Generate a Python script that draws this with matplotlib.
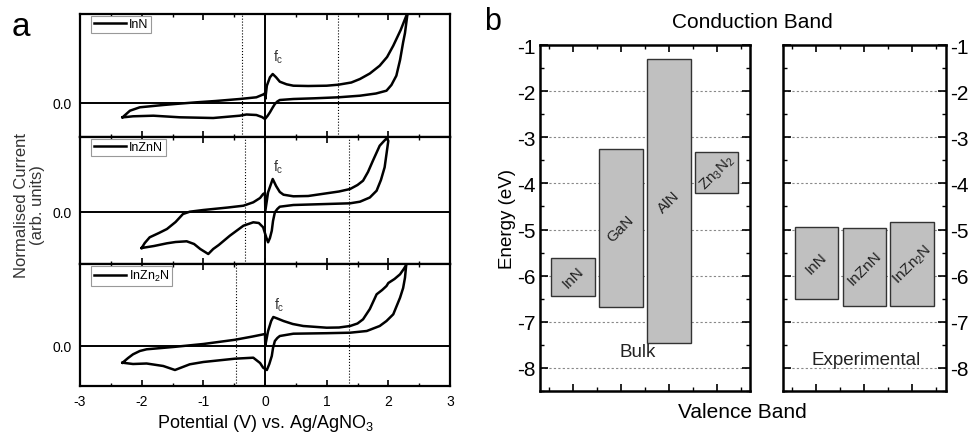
import matplotlib
matplotlib.use("Agg")
import matplotlib.pyplot as plt
from matplotlib.ticker import MultipleLocator
import numpy as np

plt.rcParams['font.family'] = ['Liberation Sans', 'DejaVu Sans']
plt.rcParams['mathtext.fontset'] = 'custom'
plt.rcParams['mathtext.rm'] = 'Liberation Sans'
plt.rcParams['mathtext.it'] = 'Liberation Sans'
plt.rcParams['axes.unicode_minus'] = False

# ---- panel a : cyclic voltammograms ----
cv_names = ["InN", "InZnN", "InZn$_2$N"]

v_inn = [-2.31, -2.19, -2.03, -1.65, -1.4, -1.11, -0.8, -0.41, -0.14, -0.03, 0.0, 0.005,
         0.03, 0.08, 0.125, 0.18, 0.24, 0.35, 0.46, 0.7, 1.0, 1.19, 1.4, 1.54, 1.7, 1.86,
         1.98, 2.08, 2.2, 2.29, 2.31,
         2.27, 2.24, 2.19, 2.13, 2.05, 1.97, 1.8, 1.54, 1.19, 0.8, 0.46, 0.24, 0.2, 0.16,
         0.12, 0.08, 0.04, 0.0, -0.05, -0.14, -0.3, -0.41, -0.84, -1.38, -1.81, -2.14,
         -2.25, -2.31]
i_inn = [-1.43, -0.77, -0.43, -0.2, -0.07, 0.07, 0.2, 0.4, 0.57, 0.85, 0.97, 0.4,
         1.73, 2.57, 2.9, 2.57, 2.13, 1.87, 1.73, 1.7, 1.73, 1.83, 2.05, 2.4, 2.95, 3.73,
         4.6, 5.73, 7.3, 8.7, 8.9,
         7.0, 6.07, 4.3, 2.73, 1.8, 1.23, 0.95, 0.73, 0.57, 0.47, 0.4, 0.3, 0.15, -0.1,
         -0.5, -0.93, -1.3, -1.6, -1.4, -1.2, -1.15, -1.27, -1.5, -1.43, -1.27, -1.33,
         -1.4, -1.43]

v_inznn = [-2.0, -1.95, -1.87, -1.72, -1.59, -1.45, -1.33, -1.22, -1.0, -0.84, -0.6, -0.35,
           -0.19, -0.08, -0.03, 0.0, 0.005, 0.05, 0.125, 0.18, 0.24, 0.3, 0.46, 0.7, 1.0,
           1.2, 1.38, 1.5, 1.59, 1.67, 1.75, 1.86, 1.93, 1.97,
           2.0, 1.97, 1.94, 1.88, 1.81, 1.7, 1.54, 1.38, 1.0, 0.46, 0.24, 0.2, 0.16, 0.13,
           0.11, 0.08, 0.05, 0.02, -0.03, -0.1, -0.19, -0.35, -0.57, -0.75, -0.84, -0.92,
           -1.05, -1.15, -1.27, -1.45, -1.59, -1.8, -2.0]
i_inznn = [-3.6, -3.1, -2.53, -2.1, -1.7, -1.0, -0.2, 0.03, 0.2, 0.3, 0.45, 0.63,
           0.97, 1.4, 1.8, 1.9, 0.1, 1.97, 3.3, 2.6, 2.0, 1.73, 1.57, 1.6, 1.87,
           2.05, 2.3, 2.7, 3.13, 4.0, 5.13, 6.63, 7.1, 7.35,
           7.13, 5.8, 4.47, 3.2, 2.13, 1.45, 1.03, 0.87, 0.8, 0.7, 0.53, 0.3, -0.03, -0.9,
           -1.87, -2.6, -3.03, -2.53, -1.53, -1.1, -1.03, -1.37, -2.37, -3.3, -3.7, -4.2,
           -3.7, -3.2, -2.93, -3.0, -3.13, -3.4, -3.6]

v_inzn2n = [-2.31, -2.22, -2.14, -2.03, -1.92, -1.49, -1.0, -0.49, -0.2, 0.0, 0.005, 0.05,
            0.1, 0.135, 0.2, 0.3, 0.45, 0.62, 1.0, 1.2, 1.38, 1.5, 1.59, 1.7, 1.81, 1.9,
            1.97, 2.0, 2.1, 2.19, 2.25, 2.29,
            2.27, 2.24, 2.19, 2.08, 1.97, 1.86, 1.65, 1.38, 1.0, 0.46, 0.24, 0.2, 0.16,
            0.13, 0.11, 0.07, 0.03, -0.03, -0.08, -0.19, -0.49, -1.0, -1.22, -1.46, -1.65,
            -1.92, -2.14, -2.31]
i_inzn2n = [-1.67, -1.2, -0.83, -0.5, -0.33, -0.1, 0.2, 0.62, 0.95, 1.2, 0.05, 1.5,
            2.5, 2.9, 2.75, 2.5, 2.2, 2.0, 1.83, 1.85, 2.0, 2.25, 2.67, 3.7, 5.17, 5.6,
            6.0, 6.3, 6.7, 7.17, 7.7, 8.1,
            6.83, 5.8, 4.83, 3.17, 2.5, 2.0, 1.5, 1.33, 1.28, 1.23, 1.0, 0.8, 0.5,
            -0.2, -1.0, -1.8, -2.4, -2.17, -1.7, -1.17, -1.27, -1.6, -1.83, -2.4, -2.0,
            -1.75, -1.8, -1.67]

cv_v = [v_inn, v_inznn, v_inzn2n]
cv_i = [i_inn, i_inznn, i_inzn2n]
cv_ylim = [(-3.4, 8.9), (-5.2, 7.5), (-4.0, 8.2)]
dotted_v = [(-0.38, 1.19), (-0.33, 1.36), (-0.47, 1.36)]
fc_pos = [(0.13, 4.2), (0.13, 4.1), (0.15, 3.7)]
x_ticks = [-3, -2, -1, 0, 1, 2, 3]

# ---- panel b : band positions ----
bulk_names = ["InN", "GaN", "AlN", "Zn$_3$N$_2$"]
bulk_cb = [-5.62, -3.26, -1.30, -3.31]
bulk_vb = [-6.43, -6.69, -7.47, -4.20]
exp_names = ["InN", "InZnN", "InZn$_2$N"]
exp_cb = [-4.95, -4.97, -4.83]
exp_vb = [-6.50, -6.66, -6.66]

W, H = 971, 435
fig = plt.figure(figsize=(W / 100, H / 100), dpi=100)

def fx(px):
    return px / W

def fy(py):
    return 1 - py / H

edges = [15, 138, 265, 387]
for k in range(3):
    ax = fig.add_axes([fx(80), fy(edges[k + 1]), fx(450) - fx(80), fy(edges[k]) - fy(edges[k + 1])])
    ax.plot(cv_v[k], cv_i[k], color='black', lw=1.8, label=cv_names[k], solid_joinstyle='round')
    ax.axhline(0, color='black', lw=1.4)
    ax.axvline(0, color='black', lw=1.4)
    for dv in dotted_v[k]:
        ax.axvline(dv, color='black', lw=0.8, ls=':')
    ax.set_xlim(-3, 3)
    ax.set_ylim(*cv_ylim[k])
    ax.set_xticks(x_ticks)
    ax.xaxis.set_minor_locator(MultipleLocator(0.5))
    ax.set_yticks([0])
    ax.set_yticklabels(["0.0"])
    ax.tick_params(axis='both', which='both', direction='in', top=True, labelsize=10)
    ax.tick_params(axis='x', which='major', length=4, width=1.2, pad=6)
    ax.tick_params(axis='x', which='minor', length=2.5, width=1.0)
    ax.tick_params(axis='y', length=0, pad=6)
    for s in ax.spines.values():
        s.set_linewidth(1.6)
    if k < 2:
        ax.tick_params(axis='x', labelbottom=False)
    else:
        ax.set_xlabel("Potential (V) vs. Ag/AgNO$_3$", fontsize=13, labelpad=3)
    leg = ax.legend(loc='upper left', bbox_to_anchor=(0.025, 1.0), fontsize=9,
                    handlelength=2.6, handletextpad=0.25, borderpad=0.2,
                    borderaxespad=0.15, fancybox=False, framealpha=1)
    leg.get_frame().set_edgecolor('#999999')
    leg.get_frame().set_linewidth(0.8)
    ax.text(fc_pos[k][0], fc_pos[k][1], "f$_\\mathrm{c}$", fontsize=10, color='#333333')

fig.text(0.03, fy(205), "Normalised Current\n(arb. units)", rotation=90,
         ha='center', va='center', fontsize=12, color='#333333', linespacing=1.1)
fig.text(fx(12), fy(27), "a", fontsize=24, va='center', ha='left')

# panel b
b1 = fig.add_axes([fx(540), fy(392), fx(750) - fx(540), fy(46) - fy(392)])
b2 = fig.add_axes([fx(783), fy(392), fx(946) - fx(783), fy(46) - fy(392)])

groups = [(b1, bulk_names, bulk_cb, bulk_vb, (0.3125, 4.69)),
          (b2, exp_names, exp_cb, exp_vb, (0.306, 3.71))]
for ax, names, cb, vb, xl in groups:
    xs = np.arange(1, len(names) + 1)
    cb = np.array(cb)
    vb = np.array(vb)
    ax.bar(xs, cb - vb, bottom=vb, width=0.9, color='#c0c0c0', edgecolor='#333333',
           lw=1.0, zorder=2)
    for x, n, c, v in zip(xs, names, cb, vb):
        ax.text(x, (c + v) / 2, n, rotation=45, ha='center', va='center', fontsize=11,
                color='#222222', zorder=3, rotation_mode='anchor')
    ax.set_xlim(*xl)
    ax.set_ylim(-8.5, -1)
    ax.yaxis.set_major_locator(MultipleLocator(1))
    ax.yaxis.set_minor_locator(MultipleLocator(0.5))
    ax.xaxis.set_major_locator(MultipleLocator(1))
    ax.xaxis.set_minor_locator(MultipleLocator(0.5))
    ax.tick_params(axis='x', which='both', labelbottom=False, top=True, direction='in')
    ax.tick_params(axis='x', which='major', length=5, width=1.2)
    ax.tick_params(axis='x', which='minor', length=3, width=1.0)
    ax.tick_params(axis='y', which='both', left=True, right=True, direction='in')
    ax.tick_params(axis='y', which='major', length=6, width=1.2, labelsize=15, pad=3)
    ax.tick_params(axis='y', which='minor', length=3, width=1.0)
    for s in ax.spines.values():
        s.set_linewidth(1.8)
    for yv in range(-8, -1):
        ax.axhline(yv, color='#888888', lw=0.8, ls=(0, (2, 2)), zorder=1)

b1.set_ylabel("Energy (eV)", fontsize=13.5, labelpad=1)
b2.tick_params(axis='y', labelleft=False, labelright=True)
b1.text(2.35, -7.64, "Bulk", ha='center', va='center', fontsize=13.5, color='#222222')
b2.text(2.04, -7.81, "Experimental", ha='center', va='center', fontsize=13.5, color='#222222')

fig.text(fx(752), fy(22), "Conduction Band", ha='center', va='center', fontsize=15)
fig.text(fx(742), fy(413), "Valence Band", ha='center', va='center', fontsize=15)
fig.text(fx(484), fy(22), "b", fontsize=22, va='center', ha='left')

fig.savefig("out.png", dpi=100)
